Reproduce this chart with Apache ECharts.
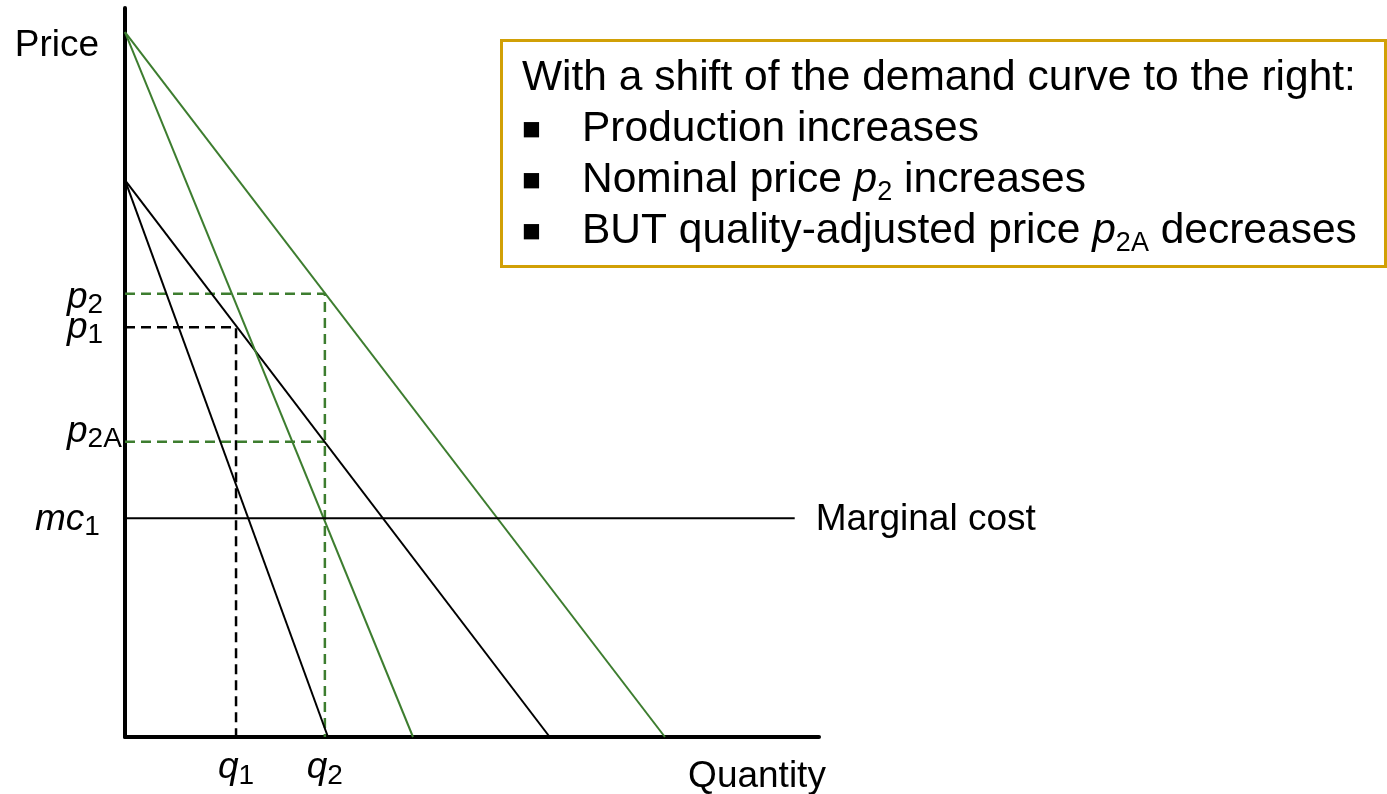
<!DOCTYPE html>
<html>
<head>
<meta charset="utf-8">
<script src="https://cdn.jsdelivr.net/npm/echarts@6/dist/echarts.min.js"></script>
<style>
  html, body { margin: 0; padding: 0; background: #fff; }
  #chart { width: 1387px; height: 794px; }
</style>
</head>
<body>
<div id="chart"></div>
<script>
// axis ranges (arbitrary units)
const qtyMax = 100
const priceMax = 100

// demand / marginal revenue before and after the shift
const mr1 = [[0, 76.4], [29.25, 0]]
const d1 = [[0, 76.4], [61.2, 0]]
const mr2 = [[0, 96.7], [41.5, 0]]
const d2 = [[0, 96.7], [77.8, 0]]
const mcLine = [[0, 30], [96.5, 30]]

// equilibrium points
const q1 = 16.0, p1 = 56.2
const q2 = 28.8, p2 = 60.8
const p2A = 40.5
const mc1 = 30

// tick labels
const qtyTicks = [q1, q2]
const qtySubs = ['1', '2']
const priceTicks = [p2, p1, p2A, mc1]
const priceMain = ['p', 'p', 'p', 'mc']
const priceSubs = ['2', '1', '2A', '1']

const boxLines = [
  'With a shift of the demand curve to the right:',
  ['Production increases'],
  ['Nominal price ', 'p', '2', ' increases'],
  ['BUT quality-adjusted price ', 'p', '2A', ' decreases']
]

const BLACK = '#000'
const GREEN = '#3d7d2f'
const GOLD = '#d1a006'
const FONT = 'Liberation Sans, Arial, sans-serif'

// label offsets for the price tick labels [dx, dy]
const priceLabelOffsets = [[-58, 4], [-58, 0], [-58, -10], [-90, 1]]

const chart = echarts.init(document.getElementById('chart'))

function solid(name, data, color) {
  return {
    name, type: 'line', data, showSymbol: false, silent: true,
    lineStyle: { color, width: 2 }, z: 3
  }
}

function dashed(name, data, color) {
  return {
    name, type: 'line', data, showSymbol: false, silent: true,
    lineStyle: { color, width: 2.5, type: [10, 6] }, z: 2
  }
}

const axisRich = {
  m: { fontSize: 37, fontStyle: 'italic', fontFamily: FONT, color: BLACK, lineHeight: 44 },
  n: { fontSize: 37, fontStyle: 'italic', fontFamily: FONT, color: BLACK, lineHeight: 44 },
  s: { fontSize: 28, fontFamily: FONT, color: BLACK, lineHeight: 23, verticalAlign: 'bottom' },
  sq: { fontSize: 28, fontFamily: FONT, color: BLACK, lineHeight: 18, verticalAlign: 'bottom' }
}

const priceLabelData = priceTicks.map((v, i) => ({
  value: [0, v],
  label: {
    formatter: '{m|' + priceMain[i] + '}{s|' + priceSubs[i] + '}',
    offset: priceLabelOffsets[i]
  }
}))

// text box lines as rich text
function boxText() {
  return boxLines.map((line, i) => {
    if (i === 0) return '{t|' + line + '}'
    let out = '{b|■}'
    line.forEach((part, j) => {
      if (part === 'p') out += '{i|p}'
      else if (j > 0 && line[j - 1] === 'p') out += '{s|' + part + '}'
      else out += '{t|' + part + '}'
    })
    return out
  }).join('\n')
}

const option = {
  animation: false,
  backgroundColor: '#fff',
  grid: { left: 125, top: 8, right: 568, bottom: 57, containLabel: false, outerBoundsMode: 'none' },
  xAxis: {
    type: 'value', min: 0, max: qtyMax,
    name: 'Quantity', nameLocation: 'end', nameGap: -62,
    nameTextStyle: {
      fontSize: 37, fontFamily: FONT, color: BLACK,
      align: 'center', verticalAlign: 'top', lineHeight: 40, padding: [20, 0, 0, 0]
    },
    axisLine: { show: true, lineStyle: { color: BLACK, width: 4 } },
    axisTick: { show: false },
    splitLine: { show: false },
    axisLabel: {
      show: true,
      customValues: qtyTicks,
      margin: 9,
      formatter: (v) => {
        const i = qtyTicks.indexOf(v)
        return '{n|q}{sq|' + (i >= 0 ? qtySubs[i] : '') + '}'
      },
      rich: axisRich
    }
  },
  yAxis: {
    type: 'value', min: 0, max: priceMax,
    name: 'Price', nameLocation: 'end', nameGap: -38,
    nameTextStyle: {
      fontSize: 37, fontFamily: FONT, color: BLACK,
      align: 'right', verticalAlign: 'middle', padding: [0, 26, 0, 0]
    },
    axisLine: { show: true, lineStyle: { color: BLACK, width: 4 } },
    axisTick: { show: false },
    splitLine: { show: false },
    axisLabel: { show: false }
  },
  series: [
    dashed('p1 guide', [[0, p1], [q1, p1], [q1, 0]], BLACK),
    dashed('p2 guide', [[0, p2], [q2, p2], [q2, 0]], GREEN),
    dashed('p2A guide', [[0, p2A], [q2, p2A]], GREEN),
    solid('MR1', mr1, BLACK),
    solid('D1', d1, BLACK),
    solid('MR2', mr2, GREEN),
    solid('D2', d2, GREEN),
    Object.assign(solid('Marginal cost', mcLine, BLACK), {
      endLabel: {
        show: true, formatter: 'Marginal cost', distance: 21, offset: [0, 1],
        fontSize: 37, fontFamily: FONT, color: BLACK
      }
    }),
    {
      name: 'price labels', type: 'scatter', symbolSize: 0, silent: true,
      itemStyle: { opacity: 1 },
      data: priceLabelData,
      label: {
        show: true, position: 'inside', align: 'left', verticalAlign: 'middle',
        color: BLACK, opacity: 1, textBorderWidth: 0,
        rich: axisRich
      },
      z: 5
    }
  ],
  graphic: [
    {
      type: 'rect', left: 500, top: 39, silent: true,
      shape: { width: 884, height: 226 },
      style: { fill: '#fff', stroke: GOLD, lineWidth: 3 }
    },
    {
      type: 'text', left: 522, top: 57, silent: true,
      style: {
        text: boxText(),
        fill: BLACK,
        rich: {
          t: { fontSize: 42.5, fontFamily: FONT, color: BLACK, lineHeight: 51 },
          i: { fontSize: 42.5, fontFamily: FONT, fontStyle: 'italic', color: BLACK, lineHeight: 51 },
          s: { fontSize: 27, fontFamily: FONT, color: BLACK, lineHeight: 16, verticalAlign: 'bottom' },
          b: { fontSize: 20, fontFamily: 'DejaVu Sans', color: BLACK, lineHeight: 51, width: 60 }
        }
      }
    }
  ]
}

chart.setOption(option)
</script>
</body>
</html>
